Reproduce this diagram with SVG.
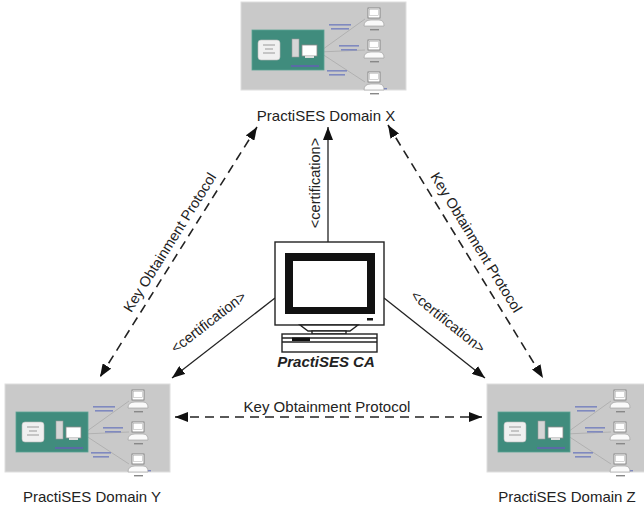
<svg xmlns="http://www.w3.org/2000/svg" xmlns:xlink="http://www.w3.org/1999/xlink" width="644" height="509" viewBox="0 0 644 509">
  <style>
    .lbl { font-family: "Liberation Sans", Arial, sans-serif; font-size: 15px; fill: #222; }
    .edge-lbl { font-family: "Liberation Sans", Arial, sans-serif; font-size: 14.5px; fill: #222; }
    .ca-lbl { font-family: "Liberation Sans", Arial, sans-serif; font-size: 15px; font-weight: bold; font-style: italic; fill: #222; }
    .solid { stroke: #222; stroke-width: 1.3; fill: none; }
    .dashed { stroke: #222; stroke-width: 1.6; fill: none; stroke-dasharray: 9 6; }
    .ink { stroke: #222; stroke-width: 1.4; }
  </style>
  <defs>
    <marker id="head" viewBox="0 0 13 10" refX="13" refY="5" markerWidth="13" markerHeight="10" markerUnits="userSpaceOnUse" orient="auto-start-reverse">
      <path d="M0,0 L13,5 L0,10 Z" fill="#111"/>
    </marker>
    <!-- thumbnail of a domain: server, key storage and three clients -->
    <g id="domainPic">
      <rect x="0" y="0" width="165" height="88" fill="#c9c9c9" stroke="#dedede" stroke-width="1"/>
      <g stroke="#aeaeae" stroke-width="0.9">
        <line x1="78" y1="50" x2="124" y2="17"/>
        <line x1="78" y1="50" x2="124" y2="48"/>
        <line x1="78" y1="50" x2="124" y2="80"/>
      </g>
      <rect x="11" y="28" width="72" height="40" fill="#408c7d" stroke="#5aa393" stroke-width="0.8"/>
      <rect x="17" y="38" width="22" height="20" rx="3" fill="#f0f0f0" stroke="#bbb" stroke-width="0.6"/>
      <g stroke="#9a9a9a" stroke-width="1">
        <line x1="22" y1="43" x2="34" y2="43"/>
        <line x1="24" y1="47" x2="32" y2="47"/>
        <line x1="22" y1="51" x2="34" y2="51"/>
      </g>
      <rect x="51" y="37" width="7" height="18" fill="#d6d6d6" stroke="#9a9a9a" stroke-width="0.6"/>
      <rect x="61" y="43" width="15" height="11" fill="#fff" stroke="#8a8a8a" stroke-width="0.8"/>
      <rect x="64" y="54" width="9" height="2" fill="#ddd"/>
      <rect x="50" y="63" width="28" height="2" fill="#5a6aa6"/>
      <g fill="#7f89bf">
        <rect x="88" y="22" width="22" height="1.6"/>
        <rect x="90" y="26" width="18" height="1.6"/>
        <rect x="98" y="43" width="20" height="1.6"/>
        <rect x="100" y="47" width="16" height="1.6"/>
        <rect x="86" y="68" width="20" height="1.6"/>
        <rect x="88" y="72" width="16" height="1.6"/>
        <rect x="126" y="86" width="20" height="1.4"/>
      </g>
      <g id="client">
        <rect x="127" y="6" width="12" height="10" fill="#fff" stroke="#777" stroke-width="0.8"/>
        <rect x="128.5" y="7.5" width="9" height="6" fill="#fff" stroke="#aaa" stroke-width="0.5"/>
        <path d="M123,24 Q123,18 130,18 L138,18 Q143,18 143,24 Z" fill="#fafafa" stroke="#999" stroke-width="0.6"/>
        <rect x="129" y="27" width="9" height="1.4" fill="#888"/>
      </g>
      <use xlink:href="#client" href="#client" y="32"/>
      <use xlink:href="#client" href="#client" y="64"/>
    </g>
  </defs>

  <!-- connectors -->
  <g id="connectors">
    <line class="solid" x1="328" y1="242" x2="328" y2="127" marker-end="url(#head)"/>
    <line class="solid" x1="275" y1="298" x2="172" y2="378" marker-end="url(#head)"/>
    <line class="solid" x1="384" y1="298" x2="485" y2="378" marker-end="url(#head)"/>
    <line class="dashed" x1="257" y1="127" x2="100" y2="377" marker-start="url(#head)" marker-end="url(#head)"/>
    <line class="dashed" x1="388" y1="125" x2="543" y2="378" marker-start="url(#head)" marker-end="url(#head)"/>
    <line class="dashed" x1="175" y1="417" x2="482" y2="417" marker-start="url(#head)" marker-end="url(#head)"/>

    <text class="edge-lbl" text-anchor="middle" transform="translate(320,183) rotate(-90)">&lt;certification&gt;</text>
    <text class="edge-lbl" text-anchor="middle" transform="translate(211.5,326) rotate(-37.8)">&lt;certification&gt;</text>
    <text class="edge-lbl" text-anchor="middle" transform="translate(445,325.5) rotate(38.7)">&lt;certification&gt;</text>
    <text class="edge-lbl" text-anchor="middle" transform="translate(174,245) rotate(-57.9)">Key Obtainment Protocol</text>
    <text class="edge-lbl" text-anchor="middle" transform="translate(472,245) rotate(58.5)">Key Obtainment Protocol</text>
    <text class="lbl" text-anchor="middle" x="327" y="412">Key Obtainment Protocol</text>
  </g>

  <!-- domain X -->
  <g id="domainX">
    <use xlink:href="#domainPic" href="#domainPic" x="241" y="2"/>
    <text class="lbl" text-anchor="middle" x="326" y="121">PractiSES Domain X</text>
  </g>

  <!-- domain Y -->
  <g id="domainY">
    <use xlink:href="#domainPic" href="#domainPic" x="5" y="384"/>
    <text class="lbl" text-anchor="middle" x="92" y="502">PractiSES Domain Y</text>
  </g>

  <!-- domain Z -->
  <g id="domainZ">
    <use xlink:href="#domainPic" href="#domainPic" x="487" y="384"/>
    <text class="lbl" text-anchor="middle" x="567" y="502">PractiSES Domain Z</text>
  </g>

  <!-- certification authority workstation -->
  <g id="ca">
    <rect class="ink" x="275" y="242" width="109" height="83" fill="#fff"/>
    <rect x="285" y="253" width="90" height="61" fill="#111"/>
    <rect x="293" y="261" width="74" height="46" fill="#fff"/>
    <rect x="367" y="318" width="6" height="2.5" fill="#111"/>
    <polygon class="ink" points="300,325 358,325 350,331 308,331" fill="#fff"/>
    <rect class="ink" x="312" y="331" width="34" height="3" fill="#fff"/>
    <rect class="ink" x="282" y="334" width="95" height="18" fill="#fff"/>
    <line class="ink" x1="282" y1="338" x2="377" y2="338"/>
    <line class="ink" x1="282" y1="342" x2="377" y2="342"/>
    <rect x="292" y="337.5" width="18" height="3.5" fill="#111"/>
    <text class="ca-lbl" text-anchor="middle" x="326" y="367">PractiSES CA</text>
  </g>
</svg>
